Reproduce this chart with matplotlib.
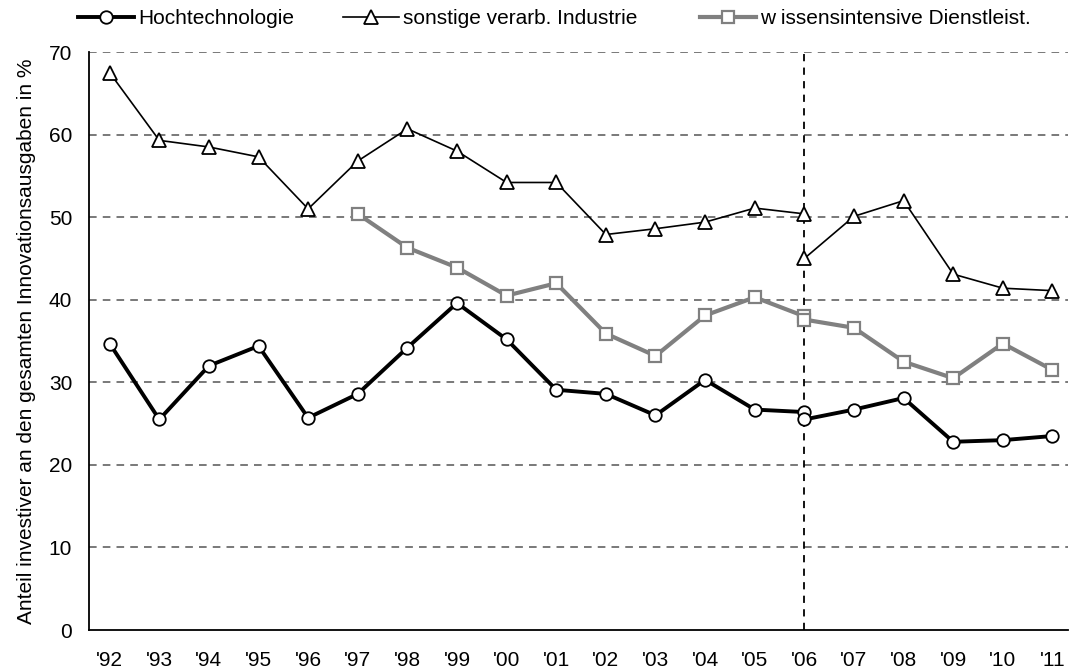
import numpy as np
import matplotlib.pyplot as plt

plt.rcParams['font.family'] = ['Liberation Sans', 'DejaVu Sans']

jahre = ["'92", "'93", "'94", "'95", "'96", "'97", "'98", "'99", "'00", "'01",
         "'02", "'03", "'04", "'05", "'06", "'07", "'08", "'09", "'10", "'11"]

# Werte bis '06 (alte Abgrenzung) und ab '06 (neue Abgrenzung)
hoch_alt = [34.7, 25.5, 32.0, 34.4, 25.7, 28.6, 34.2, 39.6, 35.2, 29.1,
            28.6, 26.0, 30.3, 26.7, 26.4]
hoch_neu = [25.5, 26.7, 28.1, 22.8, 23.0, 23.5]

sonst_alt = [67.5, 59.3, 58.5, 57.3, 51.0, 56.8, 60.7, 58.0, 54.2, 54.2,
             47.9, 48.6, 49.4, 51.1, 50.4]
sonst_neu = [45.0, 50.1, 52.0, 43.1, 41.4, 41.1]

wiss_alt = [50.4, 46.3, 43.9, 40.5, 42.0, 35.9, 33.2, 38.1, 40.3, 38.0]  # ab '97
wiss_neu = [37.6, 36.6, 32.5, 30.5, 34.7, 31.5]

namen = ['Hochtechnologie', 'sonstige verarb. Industrie', 'w issensintensive Dienstleist.']

x = np.arange(len(jahre))
x_alt = x[:15]
x_neu = x[14:]
x_wiss = x[5:15]

fig = plt.figure(figsize=(10.7, 6.71), dpi=100)
ax = fig.add_axes([0.083, 0.061, 0.915, 0.8615])

grau = '#808080'
stil_h = dict(color='black', lw=2.8, marker='o', ms=9, mfc='white', mec='black', mew=1.3)
stil_s = dict(color='black', lw=1.2, marker='^', ms=10, mfc='white', mec='black', mew=1.3)
stil_w = dict(color=grau, lw=3.0, marker='s', ms=8.5, mfc='white', mec=grau, mew=1.6)

h1, = ax.plot(x_alt, hoch_alt, zorder=4, **stil_h)
ax.plot(x_neu, hoch_neu, zorder=4, **stil_h)
h2, = ax.plot(x_alt, sonst_alt, zorder=4, **stil_s)
ax.plot(x_neu, sonst_neu, zorder=4, **stil_s)
h3, = ax.plot(x_wiss, wiss_alt, zorder=3, **stil_w)
ax.plot(x_neu, wiss_neu, zorder=3, **stil_w)

# Bruch in der Zeitreihe
ax.axvline(14, color='black', lw=1.3, ls=(0, (4, 3.5)), zorder=2)

ax.set_ylim(0, 70)
ax.set_yticks(np.arange(0, 71, 10))
ax.set_xlim(-0.42, 19.31)
ax.set_xticks(x)
ax.set_xticklabels(jahre)
for yv in range(10, 71, 10):
    ax.axhline(yv, color='#555555', lw=1.1, ls=(0, (5, 4)), zorder=1)

ax.spines['top'].set_visible(False)
ax.spines['right'].set_visible(False)
ax.spines['left'].set_linewidth(1.3)
ax.spines['bottom'].set_linewidth(1.3)
ax.tick_params(axis='both', length=0, labelsize=15)
ax.tick_params(axis='x', pad=15)
ax.tick_params(axis='y', pad=12)
ax.set_ylabel('Anteil investiver an den gesamten Innovationsausgaben in %', fontsize=15, labelpad=9)

# Legende oben, drei Einträge einzeln platziert
for h, name, xpos in zip([h1, h2, h3], namen, [78, 343, 700]):
    fig.legend([h], [name], loc='center left', bbox_to_anchor=(xpos / 1070, 0.972),
               frameon=False, fontsize=15, handlelength=2.7, handletextpad=0.2,
               borderpad=0, borderaxespad=0)

plt.savefig('out.png', dpi=100)
